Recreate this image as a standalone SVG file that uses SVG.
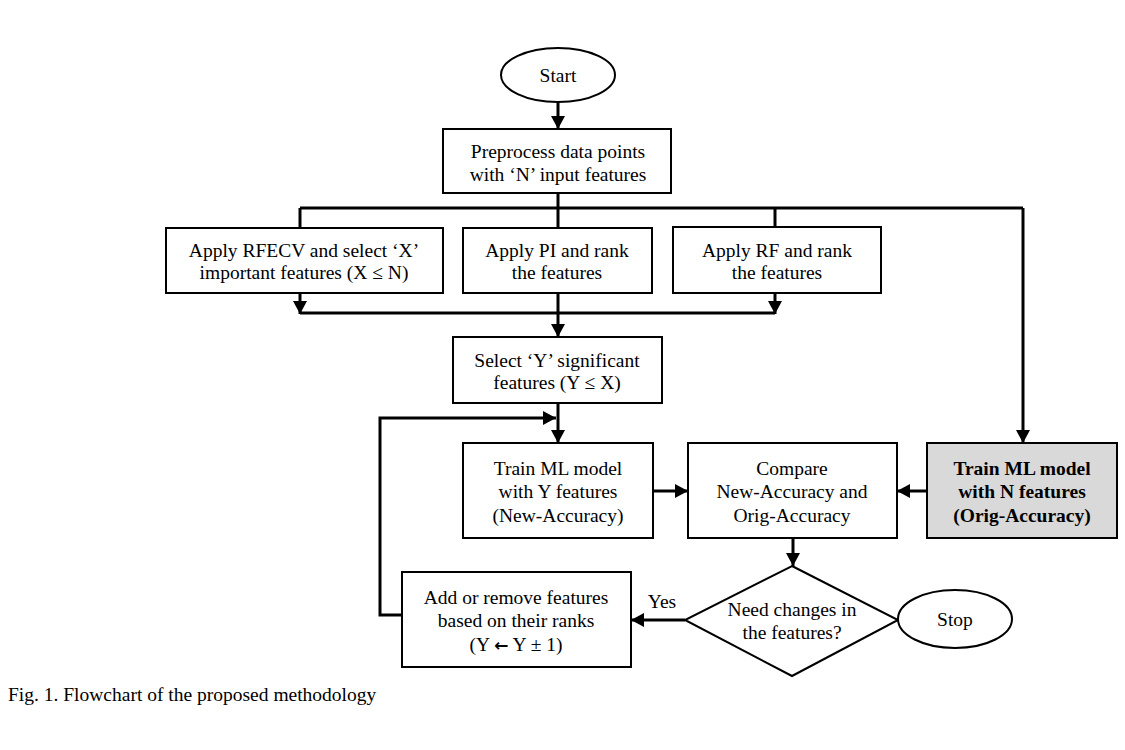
<svg xmlns="http://www.w3.org/2000/svg" width="1125" height="750" viewBox="0 0 1125 750">
<style>
text{font-family:"Liberation Serif","Times New Roman",serif;font-size:19.5px;fill:#000;text-anchor:middle}
.box{fill:#fff;stroke:#000;stroke-width:2}
.gray{fill:#d9d9d9;stroke:#000;stroke-width:2}
.c{fill:none;stroke:#000;stroke-width:3}
.b{font-weight:bold}
.arr{font-family:"DejaVu Sans",sans-serif;font-weight:bold;font-size:17px}
.cap{text-anchor:start;font-size:19.5px}
</style>
<defs>
<marker id="ah" markerUnits="userSpaceOnUse" markerWidth="14" markerHeight="14" refX="13" refY="7" orient="auto">
<path d="M0,0 L13,7 L0,14 z" fill="#000"/>
</marker>
</defs>
<rect width="1125" height="750" fill="#fff"/>
<g id="connectors">
<path class="c" d="M558,103 L558,129" marker-end="url(#ah)"/>
<path class="c" d="M558,193 L558,228"/>
<path class="c" d="M300,208 L1023,208"/>
<path class="c" d="M300,208 L300,228"/>
<path class="c" d="M775,208 L775,227"/>
<path class="c" d="M1023,208 L1023,443" marker-end="url(#ah)"/>
<path class="c" d="M300,293 L300,314" marker-end="url(#ah)"/>
<path class="c" d="M775,293 L775,314" marker-end="url(#ah)"/>
<path class="c" d="M300,313 L775,313"/>
<path class="c" d="M558,293 L558,337" marker-end="url(#ah)"/>
<path class="c" d="M558,403 L558,443" marker-end="url(#ah)"/>
<path class="c" d="M402,615 L380,615 L380,418 L556,418" marker-end="url(#ah)"/>
<path class="c" d="M653,491 L688,491" marker-end="url(#ah)"/>
<path class="c" d="M927,491 L897,491" marker-end="url(#ah)"/>
<path class="c" d="M793,538 L793,566" marker-end="url(#ah)"/>
<path class="c" d="M685,620 L631,620" marker-end="url(#ah)"/>
<text x="662" y="608">Yes</text>
</g>
<g id="start">
<ellipse class="box" cx="558" cy="75" rx="57" ry="27"/>
<text x="558" y="82">Start</text>
</g>
<g id="preprocess">
<rect class="box" x="443" y="129" width="228" height="64"/>
<text x="558" y="158">Preprocess data points</text>
<text x="558" y="181">with ‘N’ input features</text>
</g>
<g id="rfecv">
<rect class="box" x="166" y="228" width="277" height="65"/>
<text x="304" y="257">Apply RFECV and select ‘X’</text>
<text x="304" y="279">important features (X ≤ N)</text>
</g>
<g id="pi">
<rect class="box" x="463" y="228" width="189" height="65"/>
<text x="557" y="257">Apply PI and rank</text>
<text x="557" y="279">the features</text>
</g>
<g id="rf">
<rect class="box" x="673" y="227" width="208" height="66"/>
<text x="777" y="257">Apply RF and rank</text>
<text x="777" y="279">the features</text>
</g>
<g id="select">
<rect class="box" x="453" y="337" width="209" height="66"/>
<text x="557" y="367">Select ‘Y’ significant</text>
<text x="557" y="389">features (Y ≤ X)</text>
</g>
<g id="trainY">
<rect class="box" x="463" y="443" width="190" height="95"/>
<text x="558" y="475">Train ML model</text>
<text x="558" y="498">with Y features</text>
<text x="558" y="522">(New-Accuracy)</text>
</g>
<g id="compare">
<rect class="box" x="688" y="443" width="209" height="95"/>
<text x="792" y="475">Compare</text>
<text x="792" y="498">New-Accuracy and</text>
<text x="792" y="522">Orig-Accuracy</text>
</g>
<g id="trainN">
<rect class="gray" x="927" y="443" width="190" height="95"/>
<text class="b" x="1022" y="475">Train ML model</text>
<text class="b" x="1022" y="498">with N features</text>
<text class="b" x="1022" y="522">(Orig-Accuracy)</text>
</g>
<g id="decision">
<polygon class="box" points="792,566 898,620 792,676 685,620"/>
<text x="792" y="616">Need changes in</text>
<text x="792" y="639">the features?</text>
</g>
<g id="stop">
<ellipse class="box" cx="955" cy="619" rx="57" ry="29"/>
<text x="955" y="626">Stop</text>
</g>
<g id="addremove">
<rect class="box" x="402" y="572" width="229" height="95"/>
<text x="516" y="604">Add or remove features</text>
<text x="516" y="627">based on their ranks</text>
<text x="516" y="651">(Y <tspan class="arr">←</tspan> Y ± 1)</text>
</g>
<text class="cap" x="8" y="701">Fig. 1. Flowchart of the proposed methodology</text>
</svg>
